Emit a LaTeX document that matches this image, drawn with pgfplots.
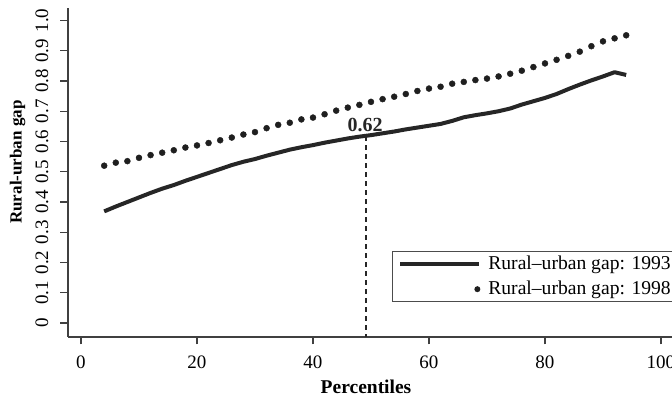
\documentclass[border=0pt]{standalone}
\usepackage{fontspec}
\setmainfont{Liberation Serif}
\usepackage{pgfplots}
\pgfplotsset{compat=1.18}
\begin{document}
\begin{tikzpicture}
\begin{axis}[
  at={(68pt,61pt)}, anchor=south west,
  scale only axis, width=604pt, height=328.7pt,
  xmin=-2.24, xmax=101.9, ymin=-0.0463, ymax=1.0403,
  axis x line*=bottom, axis y line*=left,
  axis line style={line width=1.2pt, black!75},
  every tick/.style={line width=1.2pt, black!75},
  tick align=outside, major tick length=7.5pt,
  xtick={0,20,40,60,80,100},
  xticklabels={0,20,40,60,80,100},
  ytick={0,0.1,0.2,0.3,0.4,0.5,0.6,0.7,0.8,0.9,1.0},
  yticklabels={0,0.1,0.2,0.3,0.4,0.5,0.6,0.7,0.8,0.9,1.0},
  font=\fontsize{19pt}{23pt}\selectfont,
  /pgf/number format/assume math mode=true,
  yticklabel style={rotate=90, anchor=south, inner sep=0pt},
  yticklabel shift=12pt,
  xticklabel style={anchor=north, inner sep=0pt},
  xticklabel shift=11pt,
  xlabel={Percentiles},
  ylabel={Rural-urban gap},
  xlabel style={at={(axis description cs:0.4934,-0.1704)}, anchor=base, font=\fontsize{19.5pt}{23pt}\selectfont\bfseries},
  ylabel style={at={(axis description cs:-0.0836,0.532)}, anchor=center, font=\fontsize{17pt}{21pt}\selectfont\bfseries},
  legend style={at={(axis cs:53.6,0.239)}, anchor=north west, draw=black!70, line width=1pt,
    inner xsep=6pt, inner ysep=5pt, column sep=7pt, row sep=11pt,
    nodes={draw=none, inner sep=0pt, anchor=base west, text height=13pt, font=\fontsize{19.6pt}{24pt}\selectfont}},
  legend cell align=left,
]
\addplot[black!85, line width=4pt, line join=round,
  legend image code/.code={\path[draw=none] (0pt,0pt) rectangle (79pt,0pt); \draw[black!85, line width=4pt] (0pt,5.5pt) -- (79pt,5.5pt);}]
coordinates {
(4,0.369) (6,0.385) (8,0.400) (10,0.415) (12,0.430) (14,0.444) (16,0.456) (18,0.470)
(20,0.483) (22,0.496) (24,0.509) (26,0.522) (28,0.533) (30,0.542) (32,0.553) (34,0.563)
(36,0.573) (38,0.581) (40,0.588) (42,0.596) (44,0.603) (46,0.610) (48,0.616) (50,0.621)
(52,0.627) (54,0.633) (56,0.640) (58,0.646) (60,0.652) (62,0.658) (64,0.668) (66,0.680)
(68,0.687) (70,0.693) (72,0.700) (74,0.709) (76,0.722) (78,0.733) (80,0.744) (82,0.757)
(84,0.773) (86,0.788) (88,0.802) (90,0.815) (92,0.829) (94,0.820)
};
\addlegendentry{Rural–urban gap: 1993}
\addplot[black!88, only marks, mark=*, mark size=3pt,
  legend image code/.code={\path[draw=none] (0pt,0pt) rectangle (79pt,0pt); \fill[black!88, draw=none] (77pt,5.5pt) circle (3pt);}]
coordinates {
(4,0.520) (6,0.530) (8,0.535) (10,0.546) (12,0.555) (14,0.563) (16,0.571) (18,0.580)
(20,0.587) (22,0.595) (24,0.604) (26,0.613) (28,0.623) (30,0.631) (32,0.644) (34,0.655)
(36,0.662) (38,0.673) (40,0.679) (42,0.690) (44,0.702) (46,0.712) (48,0.721) (50,0.731)
(52,0.740) (54,0.748) (56,0.757) (58,0.767) (60,0.775) (62,0.781) (64,0.791) (66,0.797)
(68,0.803) (70,0.808) (72,0.815) (74,0.824) (76,0.834) (78,0.846) (80,0.858) (82,0.870)
(84,0.883) (86,0.897) (88,0.915) (90,0.931) (92,0.941) (94,0.951)
};
\addlegendentry{Rural–urban gap: 1998\rule[-11pt]{0pt}{11pt}}
\addplot[black!85, line width=1.6pt, dash pattern=on 5pt off 4pt, forget plot]
coordinates {(49.1,0.618) (49.1,-0.0463)};
\node[anchor=base, font=\fontsize{20pt}{24pt}\selectfont\bfseries, black!85] at (axis cs:49,0.632) {0.62};
\end{axis}
\pgfresetboundingbox
\path[use as bounding box] (0pt,0pt) rectangle (672pt,398pt);
\end{tikzpicture}
\end{document}
